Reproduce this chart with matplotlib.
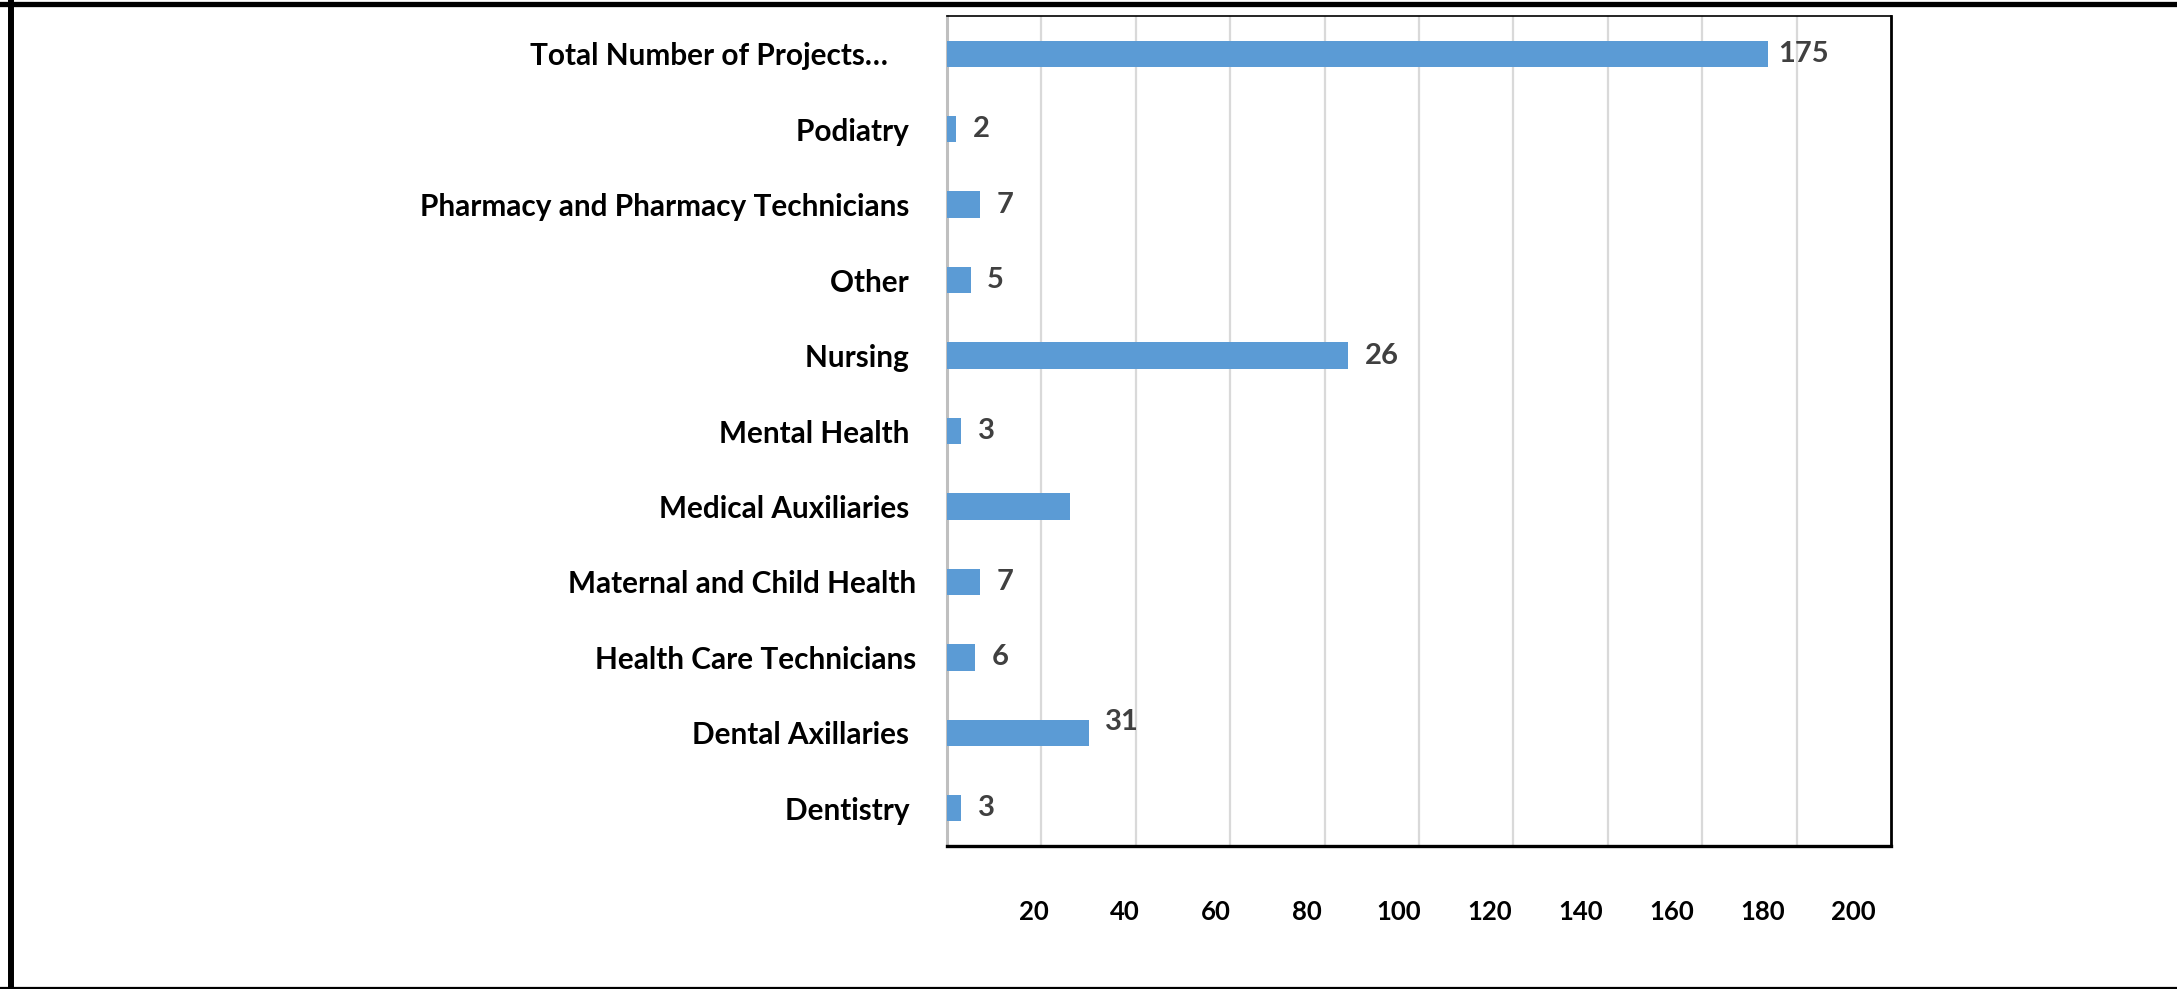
import matplotlib
matplotlib.use("Agg")
from matplotlib import pyplot as plt
from matplotlib.lines import Line2D

plt.rcParams['font.family'] = ['Lato', 'DejaVu Sans']

# categories listed bottom to top (as the bars are drawn)
categories = ["Dentistry ", "Dental Axillaries ", "Health Care Technicians",
              "Maternal and Child Health", "Medical Auxiliaries ", "Mental Health ",
              "Nursing ", "Other ", "Pharmacy and Pharmacy Technicians ", "Podiatry ",
              "Total Number of Projects\u2026    "]
bar_values = [3, 30, 6, 7, 26, 3, 85, 5, 7, 2, 174]
bar_labels = ["3", "31", "6", "7", "", "3", "26", "5", "7", "2", "175"]
tick_values = [20, 40, 60, 80, 100, 120, 140, 160, 180, 200]

fig = plt.figure(figsize=(21.77, 9.89), dpi=100)
ax = fig.add_axes([0.435, 0.1446, 0.4336, 0.8392])

y = range(len(categories))
ax.barh(y, bar_values, height=0.35, color="#5B9BD5", zorder=3)

for i, (v, lab) in enumerate(zip(bar_values, bar_labels)):
    if not lab:
        continue
    dx = 7 if v > 150 else 12
    dy = 8 if lab == "31" else 0
    ax.annotate(lab, (v, i), xytext=(dx, dy), textcoords="offset points",
                ha="left", va="center", fontsize=21, fontweight="bold",
                color="#404040")

ax.set_xlim(0, 200)
ax.set_ylim(-0.5, len(categories) - 0.5)
ax.set_yticks(list(y))
ax.set_yticklabels(categories, fontsize=21.4, fontweight="bold", color="black")
ax.tick_params(axis="y", length=0, pad=22)

# gridlines on the main axis, labels on a secondary scale (as in the original)
ax.set_xticks(tick_values[:-1])
ax.tick_params(axis="x", length=0, labelbottom=False)
ax.grid(axis="x", color="#d9d9d9", linewidth=1.6, zorder=0)

sec = ax.secondary_xaxis("bottom", functions=(lambda x: (x + 0.9) / 0.965,
                                              lambda v: 0.965 * v - 0.9))
sec.set_xticks(tick_values)
sec.set_xticklabels([str(t) for t in tick_values], fontsize=18.5, fontweight="bold")
sec.tick_params(length=0, pad=39)
sec.spines["bottom"].set_visible(False)

ax.spines["left"].set_color("#bfbfbf")
ax.spines["left"].set_linewidth(2.2)
ax.spines["top"].set_color("black")
ax.spines["top"].set_linewidth(1.2)
ax.spines["right"].set_color("black")
ax.spines["right"].set_linewidth(2.0)
ax.spines["bottom"].set_color("black")
ax.spines["bottom"].set_linewidth(2.4)

# outer frame of the picture
fig.add_artist(Line2D([0, 1], [0.9955, 0.9955], transform=fig.transFigure,
                      color="black", linewidth=3.8))
fig.add_artist(Line2D([0.0051, 0.0051], [0, 0.998], transform=fig.transFigure,
                      color="black", linewidth=4.3))
fig.add_artist(Line2D([0, 1], [0.001, 0.001], transform=fig.transFigure,
                      color="black", linewidth=1.6))

fig.savefig("out.png", dpi=100)
